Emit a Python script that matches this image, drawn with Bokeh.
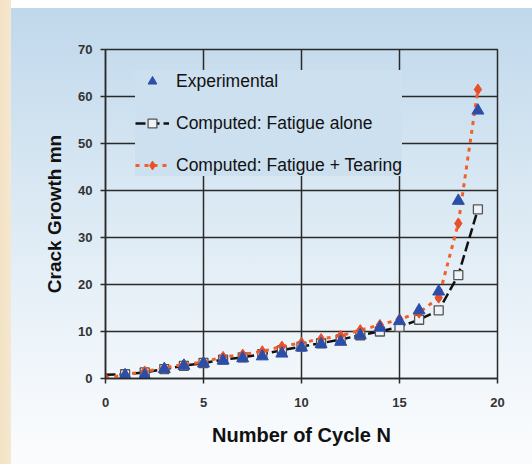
from bokeh.plotting import figure
from bokeh.models import Legend, LegendItem, Range1d, FixedTicker
from bokeh.embed import file_html
from bokeh.resources import INLINE

# ---- data ----
cycles = list(range(0, 20))
experimental_x = list(range(1, 20))
experimental = [0.7, 0.7, 2.0, 2.7, 3.2, 3.8, 4.3, 4.7, 5.3, 6.6, 7.3, 7.8, 9.2, 10.8, 12.2, 14.5, 18.5, 37.8, 57.0]
fatigue_line = [0.8, 0.9, 1.3, 2.0, 2.7, 3.3, 4.0, 4.5, 5.2, 6.0, 6.8, 7.5, 8.3, 9.2, 10.0, 11.0, 12.5, 14.5, 22.0, 36.0]
fatigue_x = list(range(1, 20))
fatigue = fatigue_line[1:]
tearing = [0.0, 0.8, 1.5, 2.2, 3.0, 3.5, 4.6, 5.1, 5.8, 6.8, 7.6, 8.4, 9.1, 10.3, 11.4, 12.6, 14.0, 17.2, 33.0, 61.5]
x_ticks = [0, 5, 10, 15, 20]
y_ticks = [0, 10, 20, 30, 40, 50, 60, 70]

p = figure(width=532, height=464, output_backend="svg", toolbar_location=None,
           x_range=Range1d(0, 20), y_range=Range1d(0, 70),
           min_border_left=105, min_border_right=35, min_border_top=49, min_border_bottom=86)

p.styles = {"background": "linear-gradient(to right, rgba(243,226,196,1) 0px, rgba(245,232,208,1) 11px, rgba(0,0,0,0) 11px), "
                          "linear-gradient(to bottom, #ffffff 0px, #ffffff 8px, #c0d8ec 8px, #d9e8f3 190px, #f2f7fb 380px, #fbfcfd 464px)"}
p.background_fill_alpha = 0
p.border_fill_alpha = 0
p.outline_line_color = "#2a2a2a"
p.outline_line_width = 1.5

for ax in (p.xaxis[0], p.yaxis[0]):
    ax.axis_line_color = "#2a2a2a"
    ax.axis_line_width = 1.5
    ax.major_tick_line_color = "#2a2a2a"
    ax.major_tick_line_width = 1.5
    ax.major_tick_in = 0
    ax.major_tick_out = 5
    ax.minor_tick_line_color = None
    ax.major_label_text_font = "Liberation Sans"
    ax.major_label_text_font_style = "bold"
    ax.major_label_text_font_size = "13px"
    ax.major_label_text_color = "#333333"
    ax.axis_label_text_font = "Liberation Sans"
    ax.axis_label_text_font_style = "bold"
    ax.axis_label_text_color = "#111111"

p.xaxis[0].ticker = FixedTicker(ticks=x_ticks)
p.yaxis[0].ticker = FixedTicker(ticks=y_ticks)
p.xaxis[0].axis_label = "Number of Cycle N"
p.yaxis[0].axis_label = "Crack Growth mn"
p.xaxis[0].axis_label_text_font_size = "20px"
p.yaxis[0].axis_label_text_font_size = "19px"
p.xaxis[0].major_label_standoff = 14
p.yaxis[0].major_label_standoff = 8
p.xaxis[0].axis_label_standoff = 14
p.yaxis[0].axis_label_standoff = 10

for g in (p.xgrid[0], p.ygrid[0]):
    g.grid_line_color = "#2a2a2a"
    g.grid_line_width = 1.5
    g.grid_line_alpha = 1.0
p.xgrid[0].ticker = FixedTicker(ticks=x_ticks)
p.ygrid[0].ticker = FixedTicker(ticks=y_ticks)

# Series
fat_line = p.line(cycles, fatigue_line, line_color="#111111", line_width=2.5, line_dash="10 4")
fat_pts = p.scatter(fatigue_x, fatigue, marker="square", size=9, fill_color="#eef3f7",
                    line_color="#555555", line_width=1.3)
tear_line = p.line(cycles, tearing, line_color="#f0602a", line_width=3, line_dash="4 5")
tear_pts = p.scatter(cycles, tearing, marker="diamond", size=11, fill_color="#e8502a", line_color="#e8502a")
exp_pts = p.scatter(experimental_x, experimental, marker="triangle", size=12, fill_color="#2d4ea8",
                    line_color="#2d4ea8")

legend = Legend(items=[
    LegendItem(label="Experimental", renderers=[exp_pts]),
    LegendItem(label="Computed: Fatigue alone", renderers=[fat_line, fat_pts]),
    LegendItem(label="Computed: Fatigue + Tearing", renderers=[tear_line, tear_pts]),
], location=(30, 202))
legend.background_fill_color = "#cce0f0"
legend.background_fill_alpha = 1.0
legend.border_line_color = None
legend.label_text_font = "Liberation Sans"
legend.label_text_font_size = "17.5px"
legend.label_text_color = "#111111"
legend.glyph_width = 34
legend.glyph_height = 22
legend.label_height = 22
legend.spacing = 20
legend.padding = 12
legend.label_standoff = 7
legend.margin = 0
p.add_layout(legend, "center")

open("out.html", "w").write(file_html(p, INLINE))
